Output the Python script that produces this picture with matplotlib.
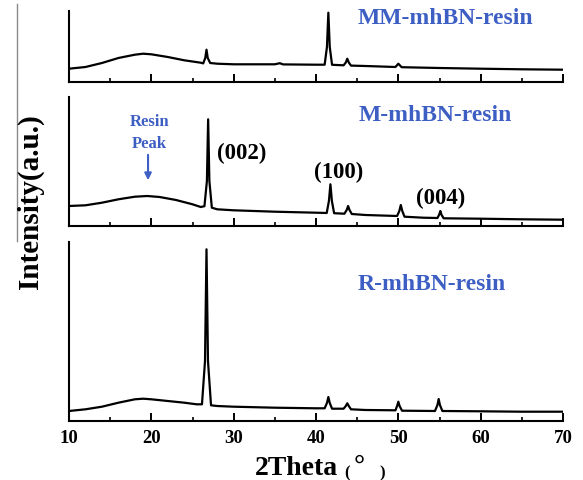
import matplotlib.pyplot as plt
from matplotlib.lines import Line2D

# XRD patterns (intensity in a.u., offset per panel)
mm_theta = [10, 12, 14, 16, 18, 19, 20, 22, 24, 26, 26.3, 26.55, 26.7, 26.85, 27.15, 28, 30,
            35, 35.6, 36, 40, 41.05, 41.33, 41.5, 41.67, 41.95, 43.35, 43.62, 43.8, 43.98, 44.25,
            46, 49.65, 50.0, 50.4, 55, 60, 65, 70]
mm_int = [13.3, 15, 19, 24, 27.3, 28.3, 27.7, 25, 21.7, 19.3, 18.6, 24, 32.3, 24, 19, 18.3, 17.7,
          17.7, 18.8, 17.6, 17.3, 17.3, 35, 69.3, 35, 17.2, 16.7, 19.5, 23.3, 19.5, 16.4,
          16, 15, 18.3, 14.8, 14, 13.3, 12.7, 12.3]

m_theta = [10, 12, 14, 16, 18, 19.5, 21, 23, 25, 26, 26.45, 26.75, 26.9, 27.05, 27.35, 28, 30,
           35, 40, 41.3, 41.57, 41.75, 41.93, 42.2, 43.45, 43.73, 43.9, 44.07, 44.35, 46,
           49.85, 50.12, 50.3, 50.48, 50.75, 53, 54.75, 54.97, 55.1, 55.23, 55.5, 60, 65, 70]
m_int = [20, 20.7, 23.3, 26.7, 29.3, 30, 29, 26, 21.7, 19, 19.8, 45, 106.7, 45, 18.3, 16.7, 15.7,
         14.3, 13.3, 13, 25, 41.7, 25, 12.8, 12.3, 16, 20, 16, 12, 11,
         10, 15, 21, 15, 9.3, 8.3, 8, 11.5, 15, 11.5, 7.7, 7.3, 6.7, 6.3]

r_theta = [10, 12, 14, 16, 18, 19, 20, 22, 24, 25.5, 26.15, 26.52, 26.7, 26.88, 27.25, 28, 30,
           35, 40, 41.05, 41.33, 41.5, 41.67, 41.95, 43.35, 43.62, 43.8, 43.98, 44.25, 46,
           49.65, 49.85, 50.0, 50.15, 50.45, 54.45, 54.75, 54.9, 55.05, 55.35, 60, 65, 70]
r_int = [10, 11.7, 14.3, 18.3, 21.7, 22.3, 21.7, 20, 18.3, 16.7, 16.7, 60, 171.7, 60, 15.7, 15, 14.3,
         13.3, 12.7, 12.7, 18, 24, 18, 12.3, 12.3, 15, 17.7, 15, 11.7, 11,
         10.7, 15, 19.3, 15, 10.3, 10, 16, 22, 16, 10, 9.7, 9.3, 9.3]

samples = ['MM-mhBN-resin', 'M-mhBN-resin', 'R-mhBN-resin']
peak_labels = ['(002)', '(100)', '(004)']
peak_label_pos = [(31.0, 74), (42.7, 55), (55.1, 29)]

blue = '#3d5fc4'
plt.rcParams['font.family'] = ['Liberation Serif', 'DejaVu Serif']
plt.rcParams['font.weight'] = 'bold'

fig = plt.figure(figsize=(5.83, 4.81), dpi=100)
W, H = 583.0, 481.0


def panel(top, bottom):
    ax = fig.add_axes([69 / W, 1 - bottom / H, (563 - 69) / W, (bottom - top) / H])
    ax.set_xlim(10, 70)
    ax.set_ylim(0, bottom - top)
    for s in ['top', 'right']:
        ax.spines[s].set_visible(False)
    for s in ['left', 'bottom']:
        ax.spines[s].set_linewidth(1.5)
    ax.set_yticks([])
    ax.set_xticks(range(10, 71, 10))
    ax.set_xticks(range(15, 70, 10), minor=True)
    ax.tick_params(axis='x', which='major', direction='in', length=6, width=1.4, labelsize=13.5, pad=6)
    ax.tick_params(axis='x', which='minor', direction='in', length=3, width=1.2)
    return ax


ax1 = panel(12, 83)
ax2 = panel(98, 227)
ax3 = panel(243, 422)

ax1.plot(mm_theta, mm_int, color='black', lw=1.6)
ax2.plot(m_theta, m_int, color='black', lw=1.6)
ax3.plot(r_theta, r_int, color='black', lw=1.6)

for ax in (ax1, ax2):
    ax.tick_params(axis='x', labelbottom=False)

ax1.text(55.7, 65, samples[0], color=blue, fontsize=17, ha='center', va='center')
ax2.text(54.5, 112, samples[1], color=blue, fontsize=17, ha='center', va='center')
ax3.text(54.0, 137, samples[2], color=blue, fontsize=17, ha='center', va='center')

ax2.text(19.75, 94, 'Resin\nPeak', color=blue, fontsize=12, ha='center', va='center',
         linespacing=1.45)
ax2.annotate('', xy=(19.6, 43), xytext=(19.6, 74),
             arrowprops=dict(arrowstyle='-|>', color=blue, lw=1.5, mutation_scale=10))

for lab, (px, py) in zip(peak_labels, peak_label_pos):
    ax2.text(px, py, lab, fontsize=16.5, ha='center', va='center')

fig.text(30 / W, 1 - 202 / H, 'Intensity(a.u.)', rotation=90, fontsize=21,
         ha='center', va='center')
fig.text(255 / W, 1 - 475 / H, '2Theta', fontsize=20, ha='left', va='baseline')
fig.text(344 / W, 1 - 477 / H, '(', fontsize=12, ha='left', va='baseline')
fig.text(354 / W, 1 - 473 / H, '°', fontsize=20, ha='left', va='baseline')
fig.text(379 / W, 1 - 477 / H, ')', fontsize=12, ha='left', va='baseline')

fig.add_artist(Line2D([17 / W, 17 / W], [1 - 5 / H, 1 - 242 / H], color='#8a8a8a', lw=1.0))

fig.savefig('out.png', dpi=100)
